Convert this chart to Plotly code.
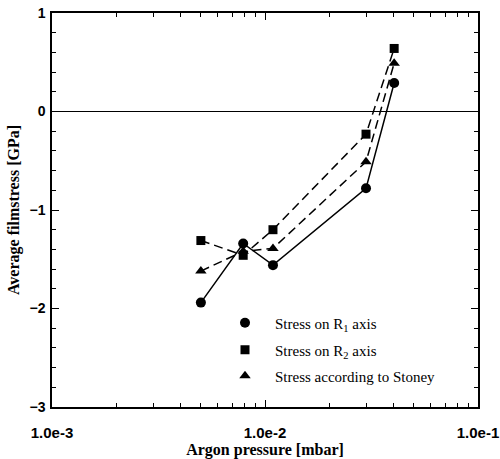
import plotly.graph_objects as go

pressure = [5.0e-3, 7.9e-3, 1.09e-2, 2.98e-2, 4.04e-2]
stress_r1 = [-1.94, -1.34, -1.56, -0.78, 0.29]
stress_r2 = [-1.31, -1.46, -1.20, -0.23, 0.64]
stress_stoney = [-1.62, -1.42, -1.39, -0.51, 0.49]

x_tickvals = [1e-3, 1e-2, 1e-1]
x_ticktext = ["1.0e-3", "1.0e-2", "1.0e-1"]
x_minor = [k * 1e-3 for k in range(2, 10)] + [k * 1e-2 for k in range(2, 10)]
y_tickvals = [-3, -2, -1, 0, 1]

W, H = 500, 459
ML, MR, MT, MB = 52, 22, 13, 52
plot_h = H - MT - MB

fig = go.Figure()

series = [
    ("Stress on R<sub>1</sub> axis", stress_r1, "circle", "solid", 10, "legend", 323),
    ("Stress on R<sub>2</sub> axis", stress_r2, "square", "9px,5px", 9, "legend2", 350),
    ("Stress according to Stoney", stress_stoney, "triangle-up", "9px,5px", 10, "legend3", 376),
]

for name, vals, sym, dash, size, leg, _ in series:
    fig.add_trace(go.Scatter(
        x=pressure, y=vals, mode="lines+markers", showlegend=False,
        line=dict(color="black", width=1.5, dash=dash),
        marker=dict(symbol=sym, size=size, color="black"),
    ))
    fig.add_trace(go.Scatter(
        x=[None], y=[None], mode="markers", name=name, legend=leg,
        marker=dict(symbol=sym, size=size, color="black"),
    ))

axis_common = dict(
    showgrid=False, showline=True, linecolor="black", linewidth=1.5,
    mirror="ticks", ticks="inside", tickcolor="black", ticklen=7, tickwidth=1.2,
    automargin=False,
)

title_font = dict(family="Liberation Serif", size=16, color="black", weight="bold")

legend_px_left = 215
legends = {}
for name, vals, sym, dash, size, leg, ypx in series:
    legends[leg] = dict(
        x=(legend_px_left - ML) / (W - ML - MR),
        y=(H - MB - ypx) / plot_h,
        xanchor="left", yanchor="middle",
        bgcolor="rgba(0,0,0,0)", borderwidth=0,
        itemwidth=50,
        font=dict(family="Liberation Serif", size=15, color="black"),
    )

fig.update_layout(
    width=W, height=H,
    margin=dict(l=ML, r=MR, t=MT, b=MB),
    paper_bgcolor="white", plot_bgcolor="white",
    xaxis=dict(
        type="log", range=[-3, -1], tickmode="array",
        tickvals=x_tickvals, ticktext=x_ticktext,
        minor=dict(tickmode="array", tickvals=x_minor, ticks="inside",
                   ticklen=4, tickcolor="black", tickwidth=1),
        tickfont=dict(family="Liberation Sans", size=15, color="black", weight="bold"),
        ticklabelstandoff=11,
        title=dict(text="Argon pressure [mbar]", standoff=6, font=title_font),
        **axis_common,
    ),
    yaxis=dict(
        range=[-3, 1], tickmode="array", tickvals=y_tickvals,
        minor=dict(dtick=0.2, ticks="inside", ticklen=4, tickcolor="black", tickwidth=1),
        zeroline=True, zerolinecolor="black", zerolinewidth=1.2,
        tickfont=dict(family="Liberation Sans", size=14, color="black", weight="bold"),
        ticklabelstandoff=2,
        title=dict(text="Average filmstress [GPa]", standoff=6, font=title_font),
        **axis_common,
    ),
    showlegend=True,
    **legends,
)

fig.write_html("out.html", config={"displayModeBar": False},
               post_script="document.body.style.margin='0';")
